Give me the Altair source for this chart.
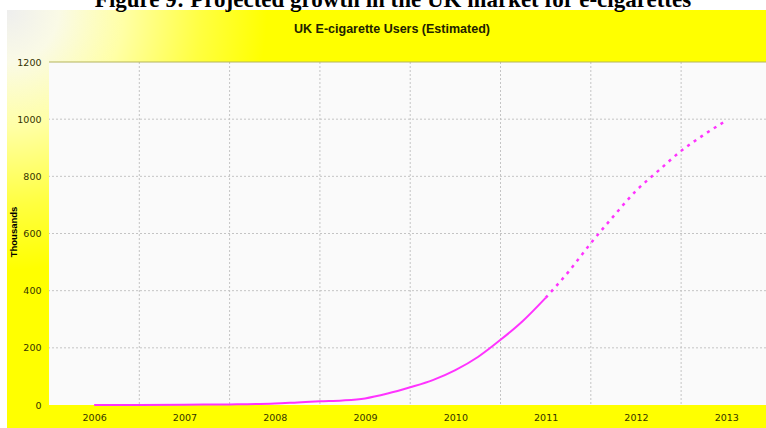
import altair as alt
import pandas as pd

# ---- data ----
actual_years = [2006.0, 2006.5, 2007.0, 2007.5, 2008.0, 2008.25, 2008.5, 2008.75,
                2009.0, 2009.25, 2009.5, 2009.75, 2010.0, 2010.25, 2010.5, 2010.75, 2011.0]
actual_users = [0, 0, 1, 2, 5, 9, 13, 16, 23, 40, 62, 87, 122, 168, 228, 295, 375]

projected_years = [2011.0, 2011.25, 2011.5, 2011.75, 2012.0, 2012.25, 2012.5, 2012.75, 2013.0]
projected_users = [375, 465, 566, 660, 749, 820, 889, 945, 995]

year_labels = [2006, 2007, 2008, 2009, 2010, 2011, 2012, 2013]
year_boundaries = [2006.5, 2007.5, 2008.5, 2009.5, 2010.5, 2011.5, 2012.5]
y_ticks = [0, 200, 400, 600, 800, 1000, 1200]
y_grid = [200, 400, 600, 800, 1000]
y_top = [1200]

figure_title = "Figure 9: Projected growth in the UK market for e-cigarettes"
chart_title = "UK E-cigarette Users (Estimated)"
y_title = "Thousands"

# ---- layout ----
W, H = 717, 343
PL, PT, PB = 49, 62, 23

xscale = alt.Scale(domain=[2005.5, 2013.44], nice=False, zero=False)
yscale = alt.Scale(domain=[0, 1200], nice=False, zero=False)

xaxis = alt.Axis(values=year_labels, format="d", grid=False, ticks=False, domain=False,
                 labelPadding=7, labelFont="DejaVu Sans", labelFontSize=9.5,
                 labelColor="#333300", labelFlush=False, title=None, zindex=1)
yaxis = alt.Axis(values=y_ticks, format="d", grid=False, ticks=False, domain=False,
                 labelPadding=8, labelFont="DejaVu Sans", labelFontSize=9.5,
                 labelColor="#333300", title=None, zindex=1)

one = pd.DataFrame({"k": [0]})
actual = pd.DataFrame({"year": actual_years, "users": actual_users})
projected = pd.DataFrame({"year": projected_years, "users": projected_users})


def rect(x, x2, y, y2, **kw):
    return alt.Chart(one).mark_rect(**kw).encode(
        x=alt.value(x), x2=alt.value(x2), y=alt.value(y), y2=alt.value(y2)
    )


top_white = rect(-PL, W, -PT, -52, fill="#ffffff")
left_white = rect(-PL, -42, -PT, H + PB, fill="#ffffff")
corner = rect(-42, 218, -52, 208, fill={
    "gradient": "radial", "x1": 0, "y1": 0, "r1": 0, "x2": 0, "y2": 0, "r2": 1,
    "stops": [
        {"offset": 0, "color": "#eeeeee"},
        {"offset": 0.2, "color": "#fafae6"},
        {"offset": 0.45, "color": "#ffffa6"},
        {"offset": 0.75, "color": "#ffff40"},
        {"offset": 1, "color": "#ffff00"},
    ],
})
plot_bg = rect(0, W, 0, H, fill="#fafafa")

hgrid = alt.Chart(pd.DataFrame({"users": y_grid})).mark_rule(
    color="#c4c4c4", strokeDash=[2, 2], strokeWidth=1
).encode(y=alt.Y("users:Q", scale=yscale, axis=yaxis))

vgrid = alt.Chart(pd.DataFrame({"year": year_boundaries})).mark_rule(
    color="#c4c4c4", strokeDash=[2, 2], strokeWidth=1
).encode(x=alt.X("year:Q", scale=xscale, axis=xaxis))

top_line = alt.Chart(pd.DataFrame({"users": y_top})).mark_rule(
    color="#b4b45a", strokeWidth=1
).encode(y=alt.Y("users:Q", scale=yscale, axis=yaxis))

line_actual = alt.Chart(actual).mark_line(
    color="#ff33ff", strokeWidth=2, interpolate="monotone"
).encode(
    x=alt.X("year:Q", scale=xscale, axis=xaxis),
    y=alt.Y("users:Q", scale=yscale, axis=yaxis),
)

line_proj = alt.Chart(projected).mark_line(
    color="#ff33ff", strokeWidth=2.5, strokeDash=[3, 5], interpolate="monotone"
).encode(
    x=alt.X("year:Q", scale=xscale, axis=xaxis),
    y=alt.Y("users:Q", scale=yscale, axis=yaxis),
)

fig_title = alt.Chart(one).mark_text(
    text=figure_title, font="Liberation Serif", fontSize=23, fontWeight="bold",
    color="#000000", align="center", baseline="alphabetic"
).encode(x=alt.value(344), y=alt.value(-55))

inner_title = alt.Chart(one).mark_text(
    text=chart_title, font="Liberation Sans", fontSize=12.5, fontWeight="bold",
    color="#222200", align="center", baseline="middle"
).encode(x=alt.value(343), y=alt.value(-33))

ytitle = alt.Chart(one).mark_text(
    text=y_title, font="Liberation Sans", fontSize=9.5, fontWeight="bold",
    color="#000000", align="center", baseline="middle", angle=270
).encode(x=alt.value(-35), y=alt.value(170))

chart = alt.layer(
    top_white, left_white, corner, plot_bg, hgrid, vgrid, top_line,
    line_actual, line_proj, fig_title, inner_title, ytitle
).properties(
    width=W, height=H,
    autosize=alt.AutoSizeParams(type="none"),
    padding={"left": PL, "top": PT, "right": 0, "bottom": PB},
).configure(background="#ffff00").configure_view(stroke=None)

chart.save("out.html", embed_options={"renderer": "svg", "actions": False})
